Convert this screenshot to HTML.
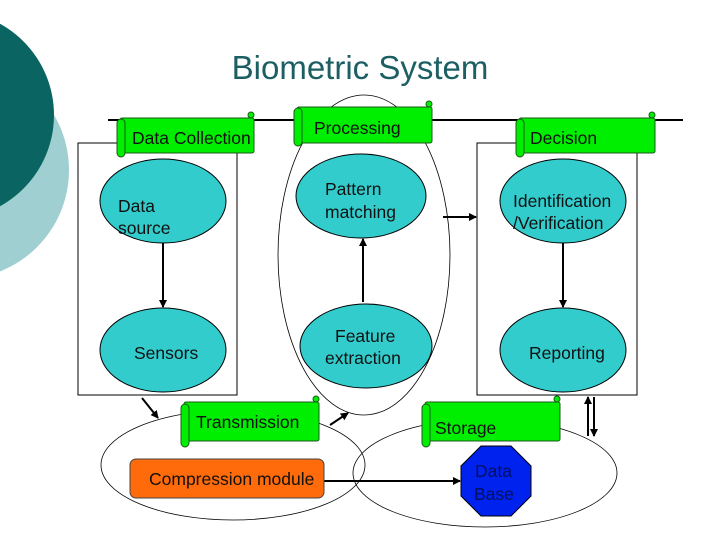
<!DOCTYPE html>
<html><head><style>
body{margin:0;width:720px;height:540px;overflow:hidden;background:#fff}
svg{display:block}
text{font-family:"Liberation Sans",sans-serif;fill:#111}
</style></head><body>
<svg width="720" height="540" viewBox="0 0 720 540">
<defs>
<marker id="a" markerWidth="8" markerHeight="8" refX="7" refY="4" orient="auto" markerUnits="userSpaceOnUse"><path d="M0,0L8,4L0,8z" fill="#000"/></marker>
</defs>
<circle cx="-40" cy="170" r="109" fill="#9fcfd0"/>
<circle cx="-50" cy="115" r="104" fill="#0a6462"/>
<text x="360" y="79" text-anchor="middle" font-size="33" style="fill:#1c5f63">Biometric System</text>
<line x1="108" y1="120" x2="683" y2="120" stroke="#000" stroke-width="2"/>
<rect x="78" y="143" width="159" height="252" fill="none" stroke="#000"/>
<rect x="477" y="143" width="160" height="252" fill="none" stroke="#000"/>
<ellipse cx="364" cy="255" rx="86" ry="160" fill="none" stroke="#000" stroke-width="0.8"/>
<ellipse cx="233" cy="465" rx="132" ry="55" fill="none" stroke="#000" stroke-width="0.8"/>
<ellipse cx="485" cy="473" rx="132" ry="54" fill="none" stroke="#000" stroke-width="0.8"/>
<g fill="#33cccc" stroke="#000" stroke-width="1">
<ellipse cx="163" cy="201" rx="63" ry="42"/>
<ellipse cx="163" cy="350" rx="63" ry="42"/>
<ellipse cx="361" cy="196" rx="65" ry="42"/>
<ellipse cx="366" cy="346" rx="66" ry="42"/>
<ellipse cx="563" cy="201" rx="63" ry="42"/>
<ellipse cx="563" cy="350" rx="63" ry="42"/>
</g>
<g stroke="#000" stroke-width="2" marker-end="url(#a)">
<line x1="163" y1="243" x2="163" y2="307"/>
<line x1="363" y1="302" x2="363" y2="239"/>
<line x1="443" y1="217" x2="476" y2="217"/>
<line x1="563" y1="243" x2="563" y2="307"/>
<line x1="324" y1="481" x2="460" y2="481"/>
<line x1="142" y1="398" x2="158" y2="418"/>
<line x1="330" y1="425" x2="348" y2="413"/>
<line x1="588" y1="436" x2="588" y2="397"/>
<line x1="594" y1="397" x2="594" y2="436"/>
</g>
<g fill="#00ee00" stroke="#1a5a1a" stroke-width="1">
<rect x="120" y="118" width="134" height="35" rx="2"/><rect x="117" y="119" width="8" height="38" rx="4"/><circle cx="251" cy="115" r="3"/>
<rect x="297" y="107" width="135" height="36" rx="2"/><rect x="294" y="108" width="8" height="38" rx="4"/><circle cx="429" cy="104" r="3"/>
<rect x="519" y="118" width="136" height="35" rx="2"/><rect x="516" y="119" width="8" height="38" rx="4"/><circle cx="652" cy="115" r="3"/>
<rect x="184" y="402" width="135" height="39" rx="2"/><rect x="181" y="404" width="8" height="43" rx="4"/><circle cx="316" cy="399" r="3"/>
<rect x="425" y="402" width="135" height="39" rx="2"/><rect x="422" y="404" width="8" height="43" rx="4"/><circle cx="557" cy="399" r="3"/>
</g>
<rect x="130" y="459" width="194" height="39" rx="6" fill="#ff6a0a" stroke="#444"/>
<polygon points="481,446 511,446 531,466 531,496 511,516 481,516 461,496 461,466" fill="#0022ee" stroke="#000"/>
<g font-size="17.5">
<text x="132" y="144">Data Collection</text>
<text x="314" y="134">Processing</text>
<text x="530" y="144">Decision</text>
<text x="118" y="212">Data</text><text x="118" y="234">source</text>
<text x="134" y="359">Sensors</text>
<text x="325" y="195">Pattern</text><text x="325" y="218">matching</text>
<text x="335" y="342">Feature</text><text x="325" y="364">extraction</text>
<text x="513" y="207">Identification</text><text x="513" y="229">/Verification</text>
<text x="529" y="359">Reporting</text>
<text x="196" y="428">Transmission</text>
<text x="435" y="434">Storage</text>
<text x="149" y="485">Compression module</text>
<text x="475" y="477" style="fill:#001060">Data</text>
<text x="474" y="500" style="fill:#001060">Base</text>
</g>
</svg>
</body></html>
